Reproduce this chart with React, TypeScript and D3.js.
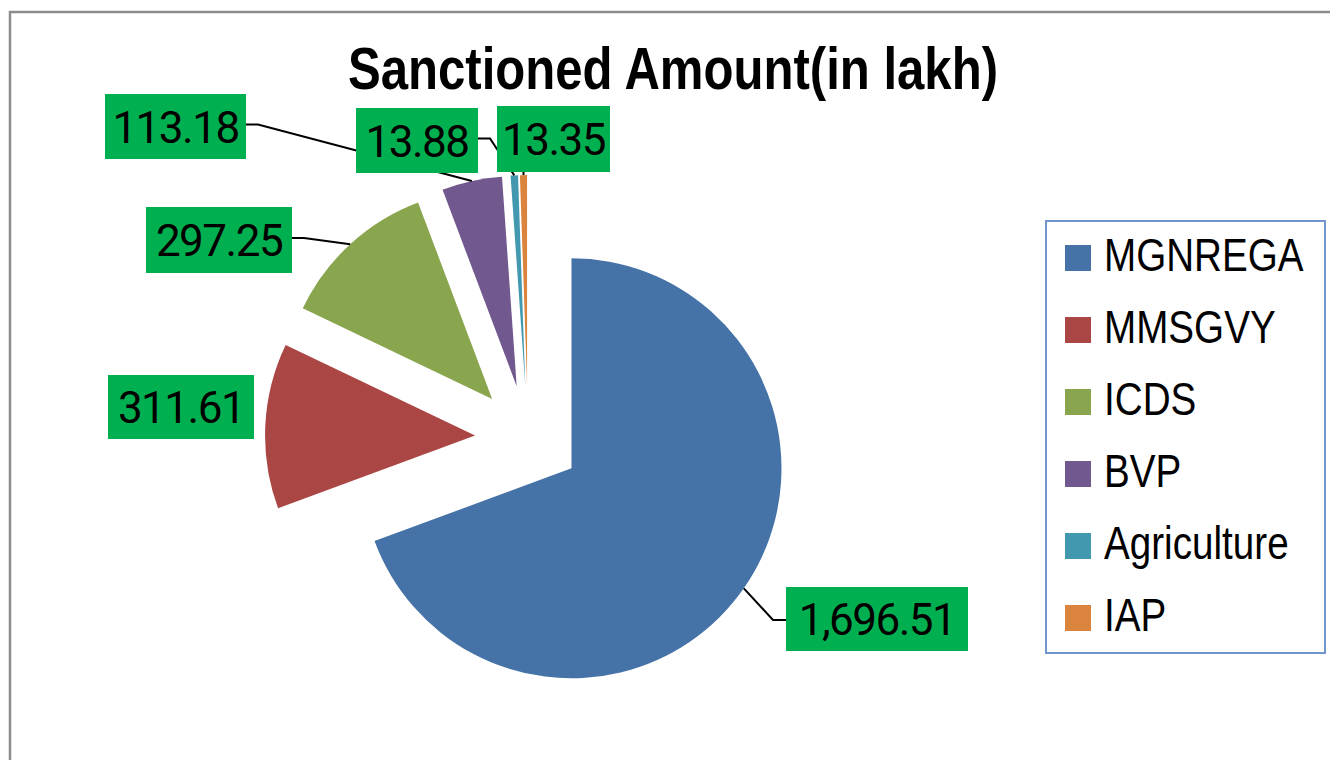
import { useMemo } from "react";
import * as d3 from "d3";

const WIDTH = 1330;
const HEIGHT = 760;

// data
const categories = ["MGNREGA", "MMSGVY", "ICDS", "BVP", "Agriculture", "IAP"];
const amounts = [1696.51, 311.61, 297.25, 113.18, 13.88, 13.35];
const labelTexts = ["1,696.51", "311.61", "297.25", "113.18", "13.88", "13.35"];
const colors = ["#4572A7", "#AA4643", "#89A54E", "#71588F", "#4198AF", "#DB843D"];

// label boxes as placed in the original chart (x, y, w, h) and leader side
const LABEL_LAYOUT = [
  { x: 786, y: 587, w: 182, h: 64, side: "left" },
  { x: 108, y: 375, w: 146, h: 64, side: "none" },
  { x: 146, y: 207, w: 146, h: 66, side: "right" },
  { x: 105, y: 94, w: 141, h: 65, side: "right" },
  { x: 356, y: 108, w: 122, h: 65, side: "right" },
  { x: 497, y: 106, w: 113, h: 66, side: "bottom" },
];

const CENTER = { x: 528, y: 438 };
const RADIUS = 210;
const EXPLODE = 53;
const NARROW = 0.84; // condensed face of the original

const App = () => {
  const slices = useMemo(() => {
    const pie = d3
      .pie<number>()
      .sort(null)
      .startAngle(0)
      .endAngle(2 * Math.PI)
      .value((d) => d);
    return pie(amounts);
  }, []);

  const arc = d3.arc<d3.PieArcDatum<number>>().innerRadius(0).outerRadius(RADIUS);

  const shapes = slices.map((s, i) => {
    const mid = (s.startAngle + s.endAngle) / 2;
    const dx = Math.sin(mid) * EXPLODE;
    const dy = -Math.cos(mid) * EXPLODE;
    return (
      <path
        key={i}
        d={arc(s) || ""}
        fill={colors[i]}
        transform={`translate(${CENTER.x + dx},${CENTER.y + dy})`}
      />
    );
  });

  const leaders = slices.map((s, i) => {
    const lay = LABEL_LAYOUT[i];
    if (lay.side === "none") return null;
    const mid = (s.startAngle + s.endAngle) / 2;
    const r = EXPLODE + RADIUS;
    const px = CENTER.x + Math.sin(mid) * r;
    const py = CENTER.y - Math.cos(mid) * r;
    let pts: [number, number][] = [];
    const cy = lay.y + lay.h / 2 - 2;
    if (lay.side === "left") {
      pts = [[px, py], [lay.x - 13, cy + 3], [lay.x, cy + 3]];
    } else if (lay.side === "right") {
      pts = [[px, py], [lay.x + lay.w + 12, cy], [lay.x + lay.w, cy]];
    } else {
      pts = [[px, py], [px, lay.y + lay.h]];
    }
    return (
      <path
        key={i}
        d={d3.line()(pts) || ""}
        fill="none"
        stroke="#000"
        strokeWidth={2}
      />
    );
  });

  const labels = LABEL_LAYOUT.map((lay, i) => (
    <g key={i}>
      <rect x={lay.x} y={lay.y} width={lay.w} height={lay.h} fill="#00B050" />
      <text
        x={lay.x + lay.w / 2}
        y={lay.y + lay.h / 2 + 16}
        textAnchor="middle"
        fontFamily="Roboto, 'Noto Sans', sans-serif"
        fontSize={44}
        letterSpacing={-1.5}
        fill="#000"
      >
        {labelTexts[i]}
      </text>
    </g>
  ));

  const legendY = d3.scalePoint<string>().domain(categories).range([245, 605]);

  const legend = categories.map((c, i) => (
    <g key={c}>
      <rect x={1065} y={legendY(c)} width={26} height={26} fill={colors[i]} />
      <g transform={`translate(1104,${(legendY(c) || 0) + 26}) scale(${NARROW},1)`}>
        <text
          x={0}
          y={0}
          fontFamily="'Liberation Sans', Arial, sans-serif"
          fontSize={46}
          fill="#000"
        >
          {c}
        </text>
      </g>
    </g>
  ));

  return (
    <div style={{ position: "absolute", left: 0, top: 0, background: "#fff" }}>
      <svg width={WIDTH} height={HEIGHT}>
        <rect x={0} y={0} width={WIDTH} height={HEIGHT} fill="#fff" />
        <rect
          x={10}
          y={12}
          width={WIDTH + 20}
          height={HEIGHT + 20}
          fill="none"
          stroke="#8c8c8c"
          strokeWidth={2.5}
        />
        <text
          x={348}
          y={89}
          textLength={650}
          lengthAdjust="spacingAndGlyphs"
          fontFamily="'Liberation Sans', Arial, sans-serif"
          fontWeight="bold"
          fontSize={60}
          fill="#000"
        >
          Sanctioned Amount(in lakh)
        </text>
        {shapes}
        {leaders}
        {labels}
        <rect
          x={1046}
          y={221}
          width={279}
          height={432}
          fill="none"
          stroke="#6F97CD"
          strokeWidth={2}
        />
        {legend}
      </svg>
    </div>
  );
};

export default App;
